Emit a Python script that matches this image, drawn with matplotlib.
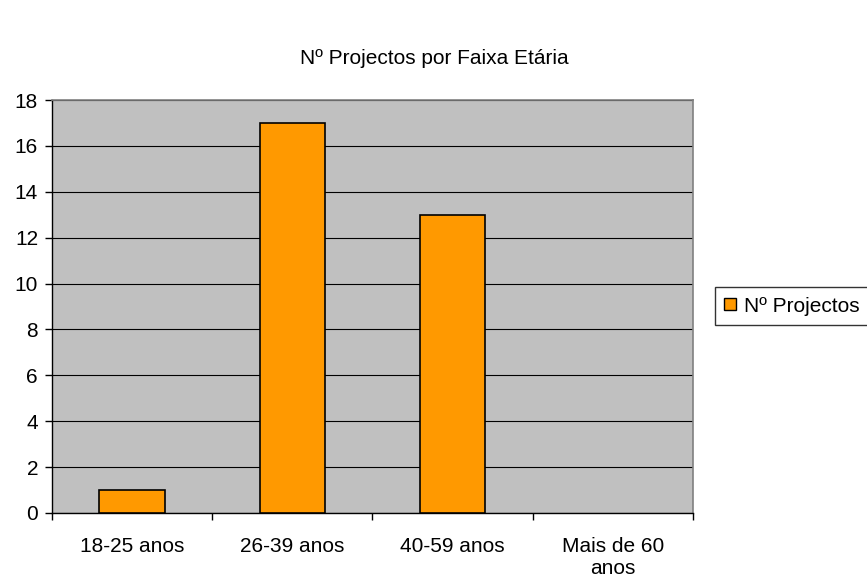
import matplotlib.pyplot as plt
from matplotlib.patches import Patch

# data
categories = ['18-25 anos', '26-39 anos', '40-59 anos', 'Mais de 60\nanos']
projectos = [1, 17, 13, 0]
title = 'Nº Projectos por Faixa Etária'
series_name = 'Nº Projectos'

plt.rcParams['font.family'] = ['Liberation Sans', 'DejaVu Sans']

fig = plt.figure(figsize=(8.67, 5.81), dpi=100)
ax = fig.add_axes([52 / 867, 1 - 513 / 581, (693 - 52) / 867, (513 - 100) / 581])
ax.set_facecolor('#C0C0C0')

x = list(range(len(categories)))
edges = ['black' if v > 0 else 'none' for v in projectos]
ax.bar(x, projectos, width=0.41, color='#FF9900', edgecolor=edges, linewidth=1.2, zorder=3)

ax.set_xlim(-0.5, len(categories) - 0.5)
ax.set_ylim(0, 18)
ax.set_yticks(range(0, 19, 2))
ax.yaxis.grid(True, color='black', linewidth=0.8, zorder=1)
ax.set_axisbelow(True)

ax.set_xticks(x)
ax.set_xticklabels(categories, fontsize=15, va='top', linespacing=1.2)
ax.tick_params(axis='x', which='major', length=0, pad=17)
ax.set_xticks([i - 0.5 for i in range(len(categories) + 1)], minor=True)
ax.tick_params(axis='x', which='minor', length=5, width=1, color='black', direction='out')
ax.tick_params(axis='y', labelsize=15, length=5, width=1, direction='out', pad=5)

for s in ['top', 'right']:
    ax.spines[s].set_color('#808080')
    ax.spines[s].set_linewidth(1.2)
for s in ['left', 'bottom']:
    ax.spines[s].set_color('black')
    ax.spines[s].set_linewidth(1)

fig.text(434 / 867, 1 - 58 / 581, title, ha='center', va='center', fontsize=15)

handles = [Patch(facecolor='#FF9900', edgecolor='black', label=series_name)]
leg = fig.legend(handles=handles, loc='center left', bbox_to_anchor=(715 / 867, 1 - 306 / 581),
                 borderaxespad=0, fontsize=15, frameon=True, fancybox=False, edgecolor='black',
                 handlelength=0.55, handleheight=0.55, handletextpad=0.4, borderpad=0.45)
leg.get_frame().set_linewidth(1)

fig.savefig('out.png', dpi=100)
